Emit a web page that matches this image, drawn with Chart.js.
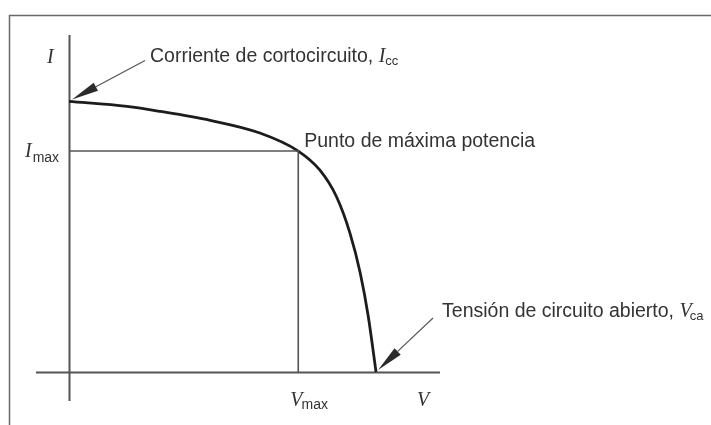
<!DOCTYPE html>
<html lang="es">
<head>
<meta charset="utf-8">
<title>Curva I-V de una célula solar</title>
<script src="https://cdn.jsdelivr.net/npm/chart.js@4/dist/chart.umd.min.js"></script>
<style>
  html, body { margin: 0; padding: 0; background: #fff; }
  #wrap { width: 711px; height: 425px; position: relative; }
</style>
</head>
<body>
<div id="wrap"><canvas id="iv-chart" width="711" height="425"></canvas></div>
<script>
// ── Data (arbitrary units) ──
const voltage = [0, 0.113, 0.178, 0.276, 0.373, 0.448, 0.490, 0.523, 0.549, 0.569, 0.585, 0.600];
const current = [3.00, 2.945, 2.89, 2.79, 2.65, 2.45, 2.24, 1.94, 1.54, 1.10, 0.61, 0];
const vMax = 0.448;
const iMax = 2.45;
const vRange = [-0.0645, 0.725];
const iRange = [-0.322, 3.737];

(function() {
  'use strict';

  const SANS = '"Liberation Sans", Arial, Helvetica, sans-serif';
  const SERIF = '"Liberation Serif", "Times New Roman", serif';
  const TEXT = '#333';

  // draws a run of text pieces (main text, italic symbol, subscript)
  function drawRun(ctx, parts, x, y) {
    parts.forEach(function(p) {
      ctx.font = p.font;
      ctx.fillText(p.text, x, y + (p.dy || 0));
      x += ctx.measureText(p.text).width + (p.gap || 0);
    });
  }

  function arrow(ctx, fromX, fromY, toX, toY) {
    const ang = Math.atan2(toY - fromY, toX - fromX);
    const len = 27, half = 4.5;
    const bx = toX - Math.cos(ang) * len, by = toY - Math.sin(ang) * len;
    ctx.strokeStyle = '#555';
    ctx.lineWidth = 1.2;
    ctx.beginPath();
    ctx.moveTo(fromX, fromY);
    ctx.lineTo(bx, by);
    ctx.stroke();
    ctx.fillStyle = '#2b2b2b';
    ctx.beginPath();
    ctx.moveTo(toX, toY);
    ctx.lineTo(bx - Math.sin(ang) * half, by + Math.cos(ang) * half);
    ctx.lineTo(bx + Math.sin(ang) * half, by - Math.cos(ang) * half);
    ctx.closePath();
    ctx.fill();
  }

  const decor = {
    id: 'ivDecor',
    beforeDatasetsDraw: function(chart) {
      const ctx = chart.ctx, a = chart.chartArea;
      const xs = chart.scales.x, ys = chart.scales.y;
      ctx.save();
      // page frame
      ctx.strokeStyle = '#6a6a6a';
      ctx.lineWidth = 1.5;
      ctx.beginPath();
      ctx.moveTo(9.5, chart.height);
      ctx.lineTo(9.5, 15.5);
      ctx.lineTo(chart.width, 15.5);
      ctx.stroke();
      // axes through the origin
      const x0 = Math.round(xs.getPixelForValue(0)) + 0.5;
      const y0 = Math.round(ys.getPixelForValue(0)) + 0.5;
      ctx.strokeStyle = '#555';
      ctx.lineWidth = 2;
      ctx.beginPath();
      ctx.moveTo(x0, a.top);
      ctx.lineTo(x0, a.bottom);
      ctx.moveTo(a.left, y0);
      ctx.lineTo(a.right, y0);
      ctx.stroke();
      ctx.restore();
    },
    afterDatasetsDraw: function(chart) {
      const ctx = chart.ctx;
      const xs = chart.scales.x, ys = chart.scales.y;
      const x0 = xs.getPixelForValue(0), y0 = ys.getPixelForValue(0);
      const iscY = ys.getPixelForValue(current[0]);
      const vocX = xs.getPixelForValue(voltage[voltage.length - 1]);
      const mpX = xs.getPixelForValue(vMax), mpY = ys.getPixelForValue(iMax);

      ctx.save();
      arrow(ctx, x0 + 76, iscY - 41, x0 + 3, iscY - 2);
      arrow(ctx, vocX + 57, y0 - 54, vocX + 2, y0 - 2);

      ctx.fillStyle = TEXT;
      ctx.textBaseline = 'alphabetic';
      const big = '19.5px ' + SANS;
      const sym = 'italic 20px ' + SERIF;
      const sub = '13px ' + SANS;

      drawRun(ctx, [{ text: 'I', font: sym }], x0 - 22, 63);
      drawRun(ctx, [
        { text: 'Corriente de cortocircuito, ', font: big },
        { text: 'I', font: sym },
        { text: 'cc', font: sub, dy: 3 }
      ], x0 + 81, iscY - 39);
      drawRun(ctx, [{ text: 'Punto de máxima potencia', font: big }], mpX + 6, mpY - 4);
      drawRun(ctx, [
        { text: 'I', font: sym, gap: 1 },
        { text: 'max', font: '14px ' + SANS, dy: 5 }
      ], x0 - 44, mpY + 6);
      drawRun(ctx, [
        { text: 'Tensión de circuito abierto, ', font: big },
        { text: 'V', font: sym, gap: -2 },
        { text: 'ca', font: sub, dy: 3 }
      ], vocX + 66, y0 - 55);
      drawRun(ctx, [
        { text: 'V', font: sym, gap: -1 },
        { text: 'max', font: '14px ' + SANS, dy: 3 }
      ], mpX - 8, y0 + 34);
      drawRun(ctx, [{ text: 'V', font: sym }], xs.getPixelForValue(0.68), y0 + 34);
      ctx.restore();
    }
  };

  const curve = voltage.map(function(v, i) { return { x: v, y: current[i] }; });
  const guide = [{ x: 0, y: iMax }, { x: vMax, y: iMax }, { x: vMax, y: 0 }];

  new Chart(document.getElementById('iv-chart'), {
    type: 'line',
    data: {
      datasets: [
        { label: 'Máxima potencia', data: guide, borderColor: '#555', borderWidth: 1.6,
          pointRadius: 0, tension: 0, fill: false },
        { label: 'Curva I-V', data: curve, borderColor: '#1c1c1c', borderWidth: 2.8,
          pointRadius: 0, cubicInterpolationMode: 'monotone', fill: false }
      ]
    },
    options: {
      responsive: false,
      animation: false,
      devicePixelRatio: 1,
      layout: { padding: { left: 36, right: 271, top: 35, bottom: 24 } },
      plugins: { legend: { display: false }, tooltip: { enabled: false } },
      scales: {
        x: { type: 'linear', min: vRange[0], max: vRange[1], display: false },
        y: { type: 'linear', min: iRange[0], max: iRange[1], display: false }
      }
    },
    plugins: [decor]
  });
})();
</script>
</body>
</html>
